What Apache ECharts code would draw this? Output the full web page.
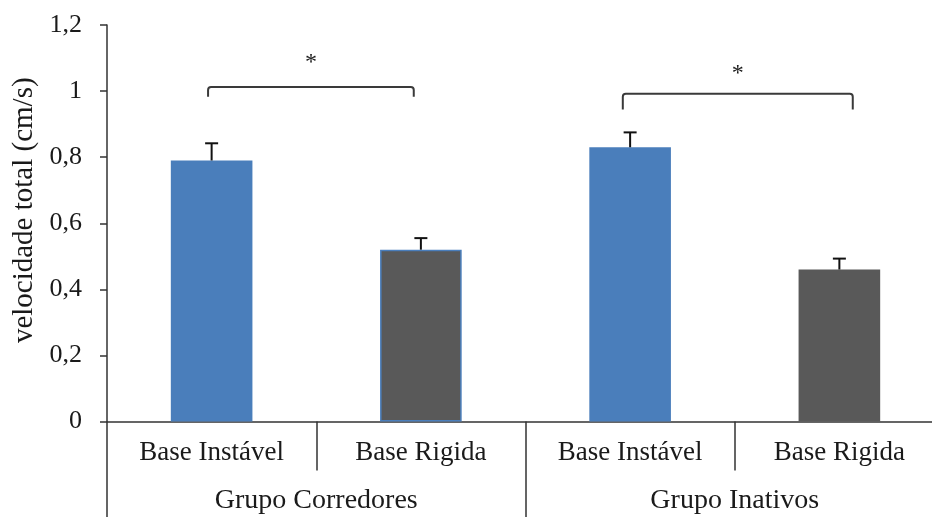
<!DOCTYPE html>
<html>
<head>
<meta charset="utf-8">
<script src="https://cdn.jsdelivr.net/npm/echarts@6/dist/echarts.min.js"></script>
<style>
  html, body { margin: 0; padding: 0; background: #fff; }
  #chart { width: 932px; height: 517px; }
</style>
</head>
<body>
<div id="chart"></div>
<script>
// Bar conditions and their groups
const conditions = ['Base Instável', 'Base Rigida', 'Base Instável', 'Base Rigida'];
const groups = ['Grupo Corredores', 'Grupo Inativos'];
// Mean total velocity (cm/s) and its error
const meanVelocity = [0.79, 0.52, 0.83, 0.46];
const errorVelocity = [0.052, 0.035, 0.045, 0.033];
// Significance brackets: bars joined, bracket level, foot level, star level
const bracketFrom = [0, 2];
const bracketTo = [1, 3];
const bracketTop = [1.012, 0.992];
const bracketFoot = [0.983, 0.944];
const starLevel = [1.087, 1.053];
// Y-axis ticks
const yTicks = [0, 0.2, 0.4, 0.6, 0.8, 1, 1.2];

const BLUE = '#4a7ebb';
const GRAY = '#595959';
const INK = '#1a1a1a';
const FONT = 'Liberation Serif';

// small horizontal nudges for bracket ends, in category widths
const fromNudge = [-0.017, -0.035];
const toNudge = [-0.034, 0.064];

const chart = echarts.init(document.getElementById('chart'), null, { renderer: 'canvas' });

const barData = meanVelocity.map((v, i) => ({
  value: v,
  itemStyle: {
    color: i % 2 === 0 ? BLUE : GRAY,
    borderColor: i === 1 ? BLUE : (i % 2 === 0 ? BLUE : GRAY),
    borderWidth: i === 1 ? 1.5 : 0
  }
}));

const errData = meanVelocity.map((v, i) => [i, v, errorVelocity[i]]);
const bracketData = bracketFrom.map((f, i) => [f, bracketTo[i], bracketTop[i], bracketFoot[i], starLevel[i], fromNudge[i], toNudge[i]]);

chart.setOption({
  animation: false,
  backgroundColor: '#fff',
  // the plot runs a little past the right edge of the canvas
  grid: { left: 107, top: 25, right: -12, bottom: 95.5, containLabel: false, outerBoundsMode: 'none' },
  xAxis: [
    {
      type: 'category',
      data: conditions,
      position: 'bottom',
      axisLine: { show: true, lineStyle: { color: '#333', width: 1.5 } },
      axisTick: { show: true, interval: 0, length: 49, lineStyle: { color: '#333', width: 1.5 } },
      axisLabel: { interval: 0, margin: 18, color: INK, fontFamily: FONT, fontSize: 27 }
    },
    {
      type: 'category',
      data: groups,
      position: 'bottom',
      axisLine: { show: false },
      axisTick: { show: true, interval: 0, length: 97, lineStyle: { color: '#333', width: 1.5 } },
      axisLabel: { interval: 0, margin: 65, color: INK, fontFamily: FONT, fontSize: 28 }
    }
  ],
  yAxis: {
    type: 'value',
    min: yTicks[0],
    max: yTicks[yTicks.length - 1],
    interval: 0.2,
    name: 'velocidade total (cm/s)',
    nameLocation: 'middle',
    nameGap: 65,
    nameTextStyle: { color: INK, fontFamily: FONT, fontSize: 29, padding: [0, 0, 0, 26] },
    axisLine: { show: true, lineStyle: { color: '#333', width: 1.5 } },
    axisTick: { show: true, length: 7, lineStyle: { color: '#333', width: 1.5 } },
    splitLine: { show: false },
    axisLabel: {
      margin: 25,
      color: INK,
      fontFamily: FONT,
      fontSize: 26,
      formatter: v => String(Math.round(v * 10) / 10).replace('.', ',')
    }
  },
  series: [
    {
      type: 'bar',
      xAxisIndex: 0,
      data: barData,
      barWidth: '39%',
      z: 2
    },
    {
      type: 'custom',
      xAxisIndex: 0,
      data: errData,
      z: 3,
      renderItem: (params, api) => {
        const x = api.value(0);
        const top = api.coord([x, api.value(1) + api.value(2)]);
        const base = api.coord([x, api.value(1)]);
        const cap = 6.5;
        return {
          type: 'group',
          children: [
            { type: 'line', shape: { x1: base[0], y1: base[1], x2: top[0], y2: top[1] }, style: { stroke: '#111', lineWidth: 2 } },
            { type: 'line', shape: { x1: top[0] - cap, y1: top[1], x2: top[0] + cap, y2: top[1] }, style: { stroke: '#111', lineWidth: 2 } }
          ]
        };
      }
    },
    {
      type: 'custom',
      xAxisIndex: 0,
      data: bracketData,
      z: 3,
      renderItem: (params, api) => {
        const catW = api.size([1, 0])[0];
        const a = api.coord([api.value(0), api.value(2)]);
        const b = api.coord([api.value(1), api.value(2)]);
        const xa = a[0] + api.value(5) * catW;
        const xb = b[0] + api.value(6) * catW;
        const yTop = a[1];
        const yFoot = api.coord([api.value(0), api.value(3)])[1];
        const yStar = api.coord([api.value(0), api.value(4)])[1];
        const r = 3;
        const path = 'M' + xa + ' ' + yFoot + ' L' + xa + ' ' + (yTop + r) +
          ' Q' + xa + ' ' + yTop + ' ' + (xa + r) + ' ' + yTop +
          ' L' + (xb - r) + ' ' + yTop +
          ' Q' + xb + ' ' + yTop + ' ' + xb + ' ' + (yTop + r) +
          ' L' + xb + ' ' + yFoot;
        return {
          type: 'group',
          children: [
            { type: 'path', shape: { pathData: path }, style: { stroke: '#3a3a3a', lineWidth: 2, fill: null } },
            {
              type: 'text',
              style: {
                x: (xa + xb) / 2, y: yStar, text: '*',
                fill: INK, font: '24px "' + FONT + '"',
                align: 'center', verticalAlign: 'middle'
              }
            }
          ]
        };
      }
    }
  ]
});
</script>
</body>
</html>
